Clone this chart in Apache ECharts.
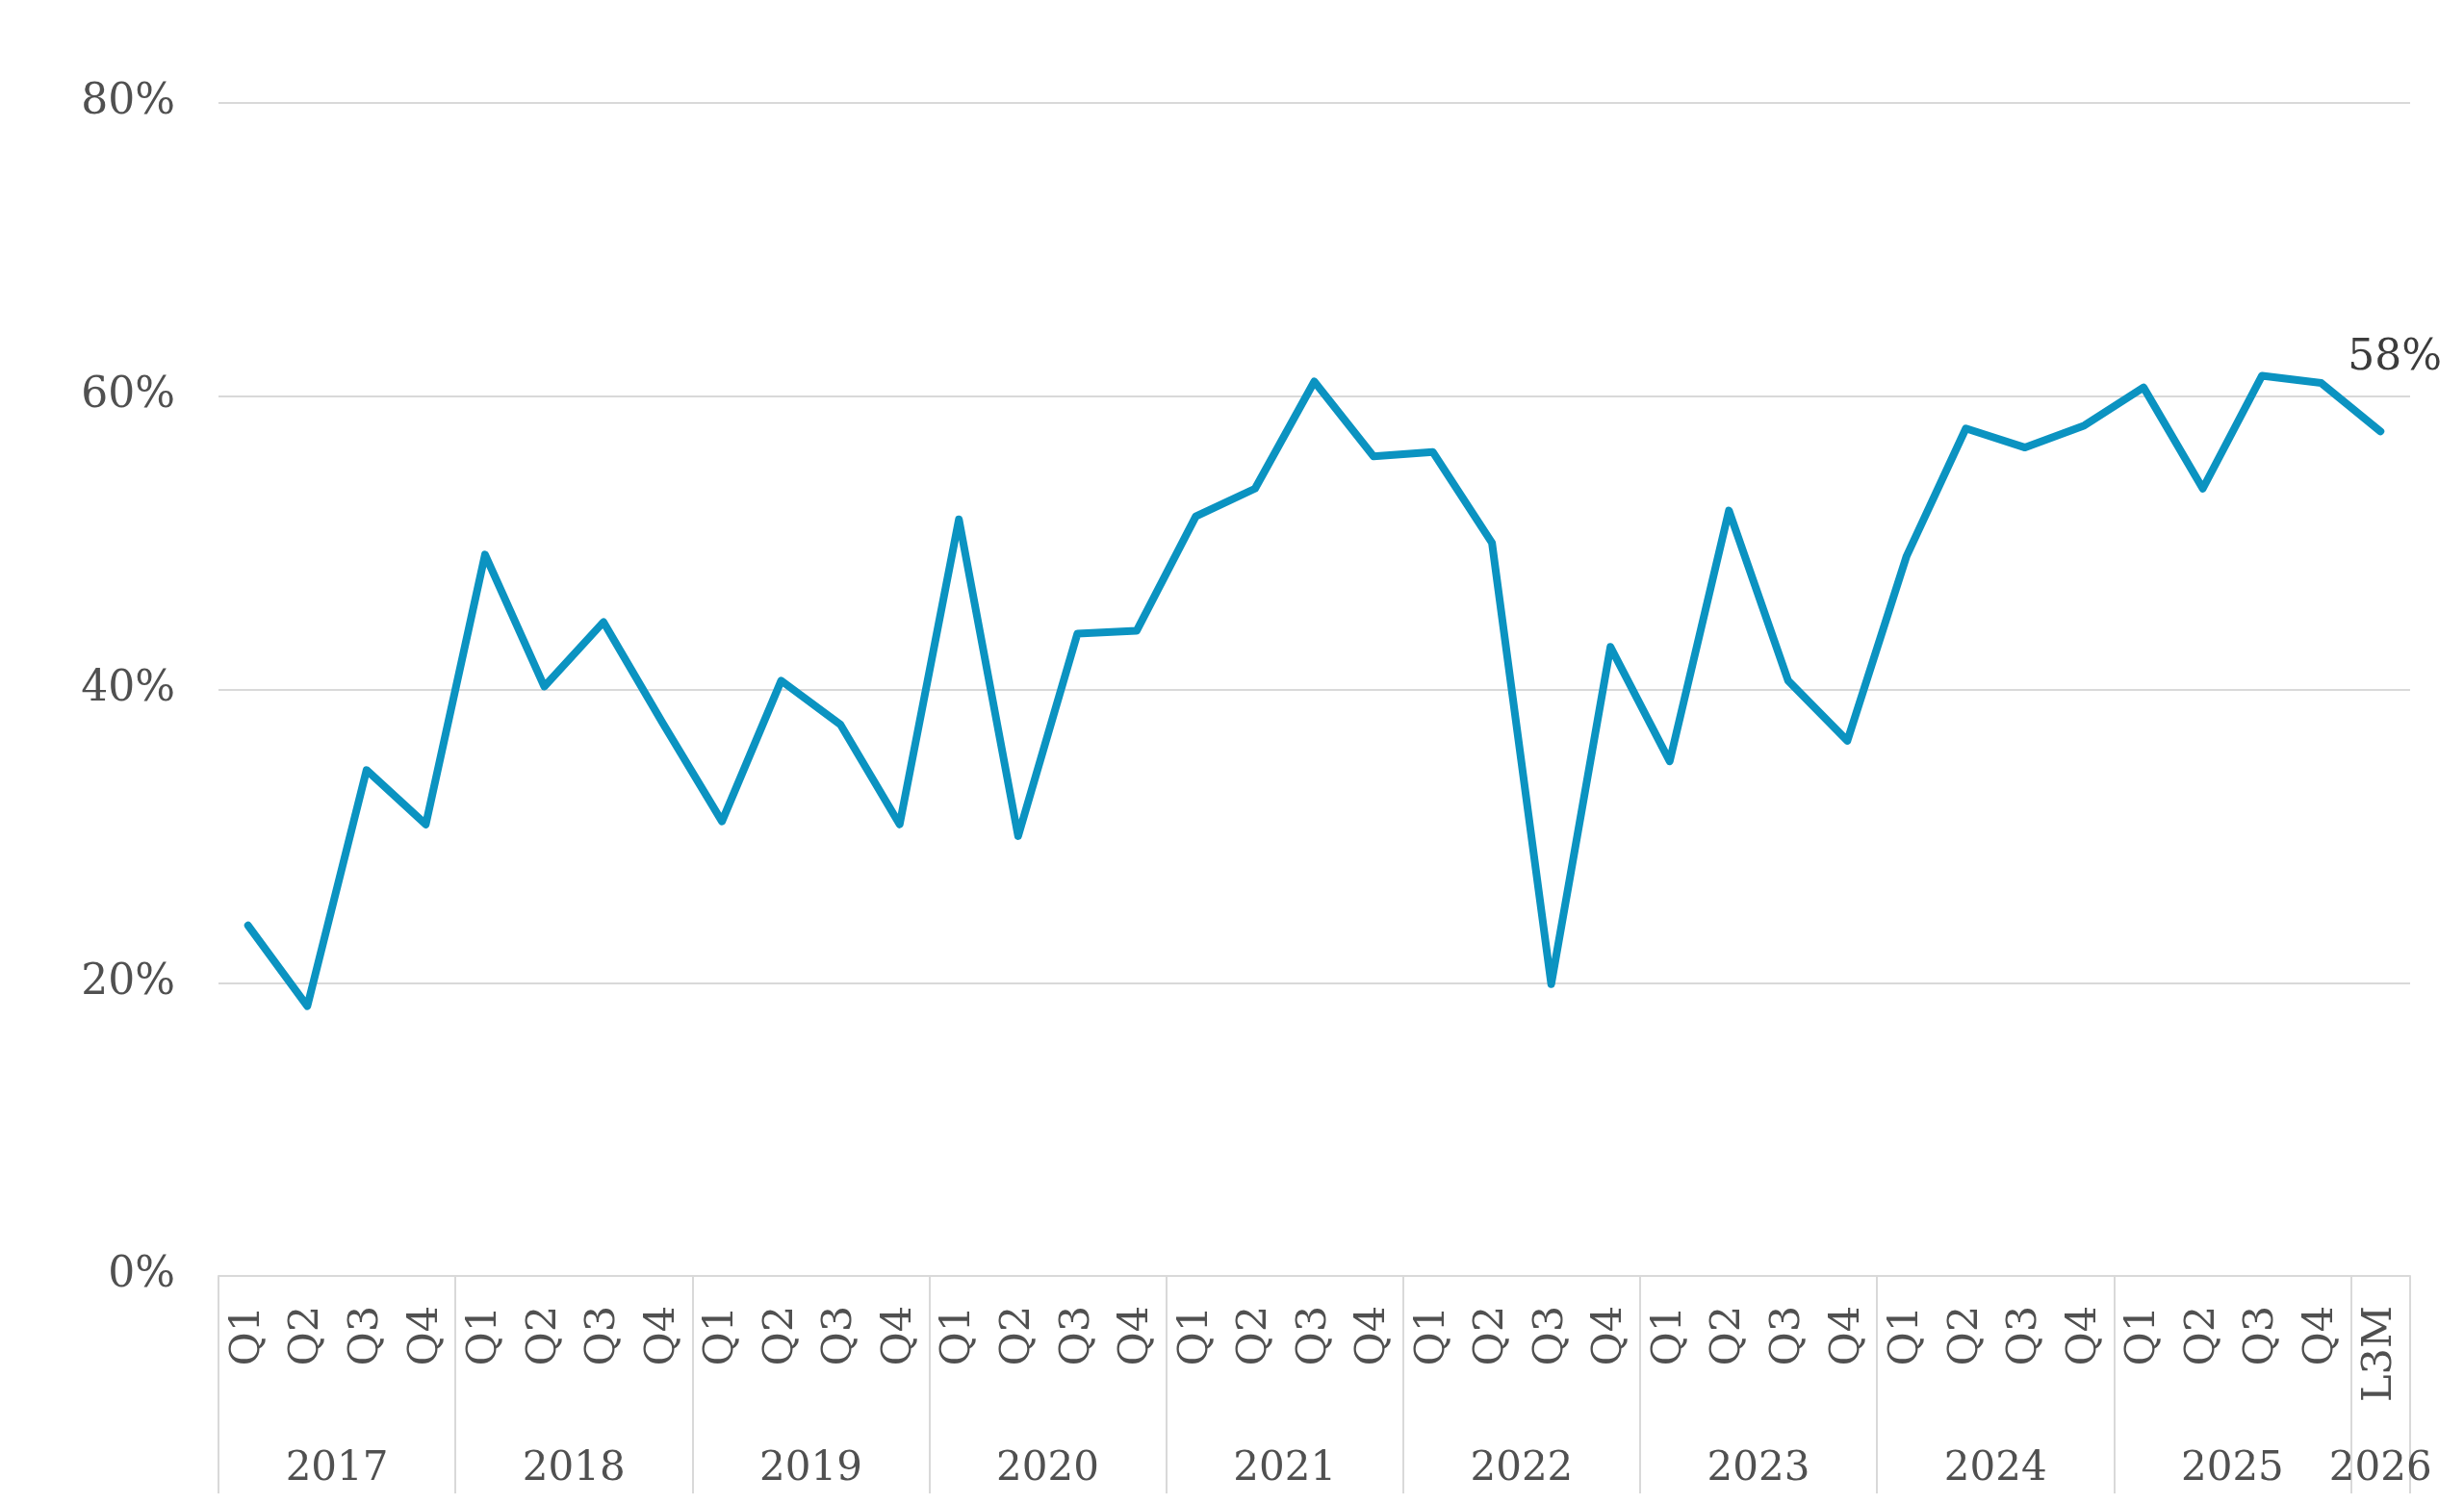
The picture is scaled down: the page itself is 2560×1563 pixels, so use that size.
<!DOCTYPE html>
<html>
<head>
<meta charset="utf-8">
<script src="https://cdn.jsdelivr.net/npm/echarts@6/dist/echarts.min.js"></script>
<style>
  html, body { margin: 0; padding: 0; background: #ffffff; }
  #chart { width: 2560px; height: 1563px; }
</style>
</head>
<body>
<div id="chart"></div>
<script>
// ---- data ----
var quarters = [
  'Q1','Q2','Q3','Q4', 'Q1','Q2','Q3','Q4', 'Q1','Q2','Q3','Q4',
  'Q1','Q2','Q3','Q4', 'Q1','Q2','Q3','Q4', 'Q1','Q2','Q3','Q4',
  'Q1','Q2','Q3','Q4', 'Q1','Q2','Q3','Q4', 'Q1','Q2','Q3','Q4',
  'L3M'
];
var years = ['2017','2018','2019','2020','2021','2022','2023','2024','2025','2026'];
var yearSpans = [4, 4, 4, 4, 4, 4, 4, 4, 4, 1];
var values = [
  23.9, 18.4, 34.5, 30.8,
  49.2, 40.2, 44.6, 37.7,
  31.0, 40.6, 37.6, 30.8,
  51.6, 30.0, 43.8, 44.0,
  51.8, 53.7, 61.0, 55.9,
  56.2, 50.0, 19.9, 42.9,
  35.1, 52.2, 40.6, 36.5,
  49.1, 57.8, 56.5, 58.0,
  60.6, 53.7, 61.4, 60.9,
  57.6
];
var yTicks = [0, 20, 40, 60, 80];

// ---- derived: year label centres and separators ----
var yearCentres = {};
var yearStarts = {};
(function () {
  var pos = 0;
  for (var i = 0; i < years.length; i++) {
    yearCentres[(pos + yearSpans[i] / 2).toFixed(1)] = years[i];
    yearStarts[pos] = true;
    pos += yearSpans[i];
  }
})();

var FONT = 'DejaVu Serif';
var TXT = '#505050';
var GRID = '#d9d9d9';

var chart = echarts.init(document.getElementById('chart'), null, { renderer: 'canvas' });
chart.setOption({
  backgroundColor: '#ffffff',
  animation: false,
  grid: { left: 227, right: 56, top: 107, bottom: 237, containLabel: false },
  xAxis: [
    {
      type: 'category',
      data: quarters,
      boundaryGap: true,
      position: 'bottom',
      axisLine: { show: true, lineStyle: { color: GRID, width: 2 } },
      axisTick: {
        show: true,
        length: 226,
        interval: function (idx) { return !!yearStarts[idx]; },
        lineStyle: { color: GRID, width: 2 }
      },
      axisLabel: {
        interval: 0,
        rotate: 90,
        margin: 31,
        fontFamily: FONT,
        fontSize: 43,
        color: TXT
      },
      splitLine: { show: false }
    },
    {
      type: 'value',
      position: 'bottom',
      min: 0,
      max: quarters.length,
      interval: 0.5,
      axisLine: { show: false },
      axisTick: { show: false },
      splitLine: { show: false },
      axisLabel: {
        show: true,
        margin: 201,
        verticalAlign: 'middle',
        fontFamily: FONT,
        fontSize: 42,
        color: TXT,
        showMinLabel: true,
        showMaxLabel: true,
        formatter: function (v) {
          var k = Number(v).toFixed(1);
          return yearCentres[k] || '';
        }
      }
    }
  ],
  yAxis: {
    type: 'value',
    min: yTicks[0],
    max: yTicks[yTicks.length - 1],
    interval: 20,
    axisLine: { show: false },
    axisTick: { show: false },
    axisLabel: {
      margin: 45,
      fontFamily: FONT,
      fontSize: 44,
      color: TXT,
      formatter: '{value}%'
    },
    splitLine: { show: true, lineStyle: { color: GRID, width: 2 } }
  },
  series: [
    {
      type: 'line',
      xAxisIndex: 0,
      yAxisIndex: 0,
      data: values,
      showSymbol: false,
      symbol: 'none',
      lineStyle: { color: '#0b93c1', width: 8, cap: 'round', join: 'round' },
      itemStyle: { color: '#0b93c1' },
      endLabel: {
        show: true,
        distance: 0,
        offset: [-34, -76],
        fontFamily: FONT,
        fontSize: 44,
        color: '#3c3c3c',
        formatter: function (p) { return Math.round(p.value) + '%'; }
      }
    }
  ]
});
</script>
</body>
</html>
